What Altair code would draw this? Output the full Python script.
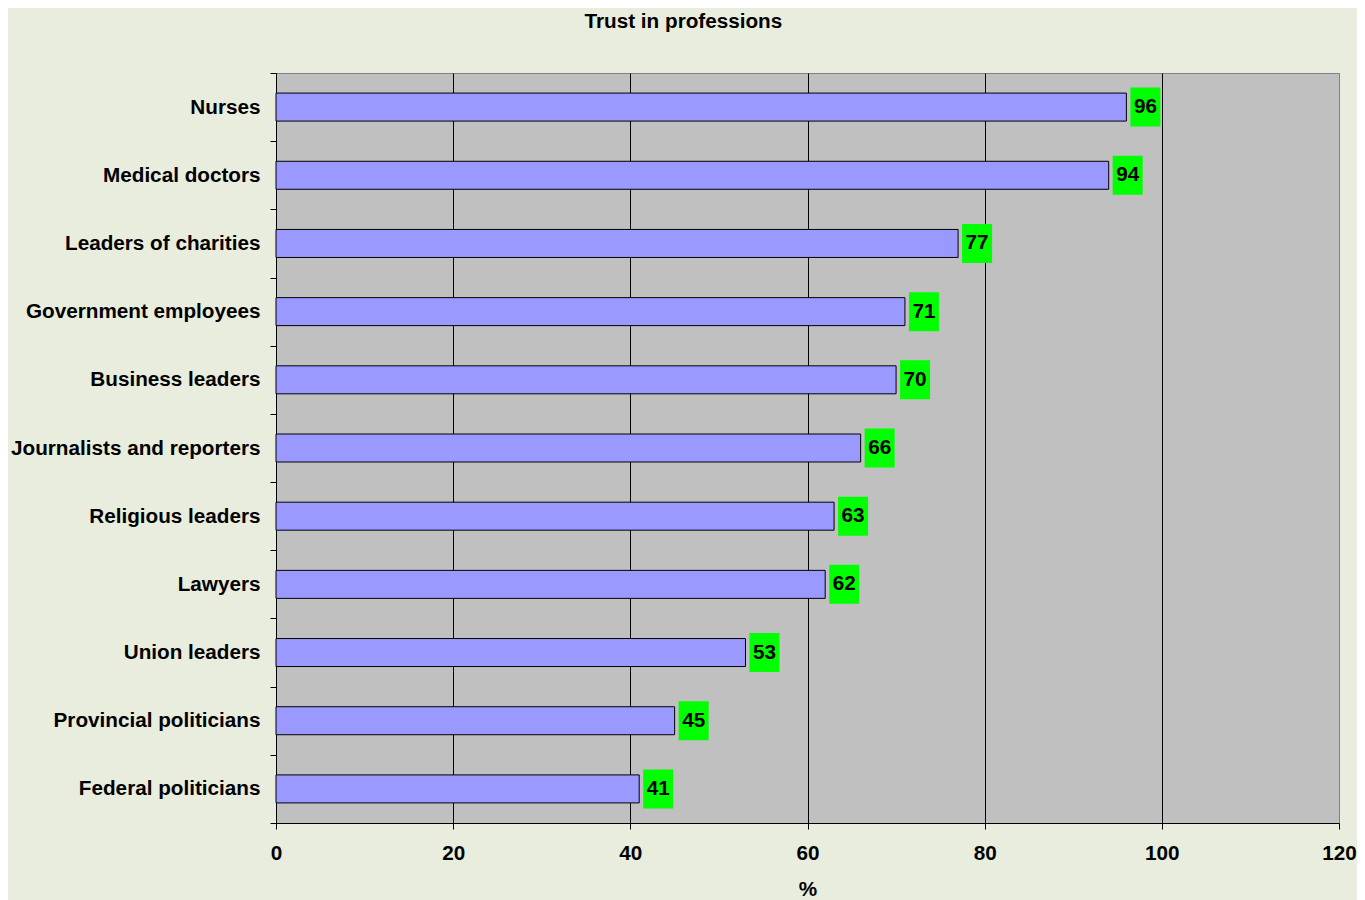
import altair as alt
import pandas as pd

professions = ["Nurses", "Medical doctors", "Leaders of charities", "Government employees",
               "Business leaders", "Journalists and reporters", "Religious leaders", "Lawyers",
               "Union leaders", "Provincial politicians", "Federal politicians"]
trust = [96, 94, 77, 71, 70, 66, 63, 62, 53, 45, 41]

df = pd.DataFrame({"profession": professions, "trust": trust})

FONT = "Liberation Sans"
FS = 20.7

y = alt.Y("profession:N", sort=professions, title=None,
          scale=alt.Scale(paddingInner=0, paddingOuter=0),
          axis=alt.Axis(labelFont=FONT, labelFontSize=FS, labelFontWeight="bold",
                        labelColor="black", labelPadding=10, tickBand="extent",
                        tickColor="black", tickSize=6, domainColor="black",
                        labelLimit=400))

x = alt.X("trust:Q", title="%",
          scale=alt.Scale(domain=[0, 120], nice=False),
          axis=alt.Axis(values=[0, 20, 40, 60, 80, 100, 120], labelFont=FONT,
                        labelFontSize=FS, labelFontWeight="bold", labelColor="black",
                        labelPadding=14, labelFlush=False, tickColor="black", tickSize=6,
                        domainColor="black", titleFont=FONT, titleFontSize=FS,
                        titleFontWeight="bold", titleColor="black", titlePadding=17,
                        grid=True,
                        gridColor={"condition": {"test": "datum.value == 120", "value": "#808080"},
                                   "value": "black"},
                        gridOpacity=1, gridWidth=1))

bars = alt.Chart(df).mark_bar(height=28, color="#9999FF", stroke="black",
                              strokeWidth=1).encode(x=x, y=y)

boxes = alt.Chart(df).mark_bar(height=39, color="#00FF00", xOffset=4,
                               x2Offset=34).encode(
    x=alt.X("trust:Q"), x2="trust:Q", y=alt.Y("profession:N", sort=professions))

labels = alt.Chart(df).mark_text(font=FONT, fontSize=FS, fontWeight="bold",
                                 color="black", align="center", baseline="middle",
                                 dx=19).encode(
    x=alt.X("trust:Q"), y=alt.Y("profession:N", sort=professions),
    text=alt.Text("trust:Q"))

chart = (bars + boxes + labels).properties(
    width=1063, height=750,
    title=alt.Title("Trust in professions", font=FONT, fontSize=FS, fontWeight="bold",
                    color="black", anchor="middle", frame="bounds", offset=29),
    background="#E9EDDD",
    padding={"left": 2, "top": 3, "right": 0, "bottom": 0}
).configure_view(fill="#C0C0C0", stroke="#808080", strokeWidth=1)

chart.save("out.html", embed_options={"renderer": "svg", "actions": False})
